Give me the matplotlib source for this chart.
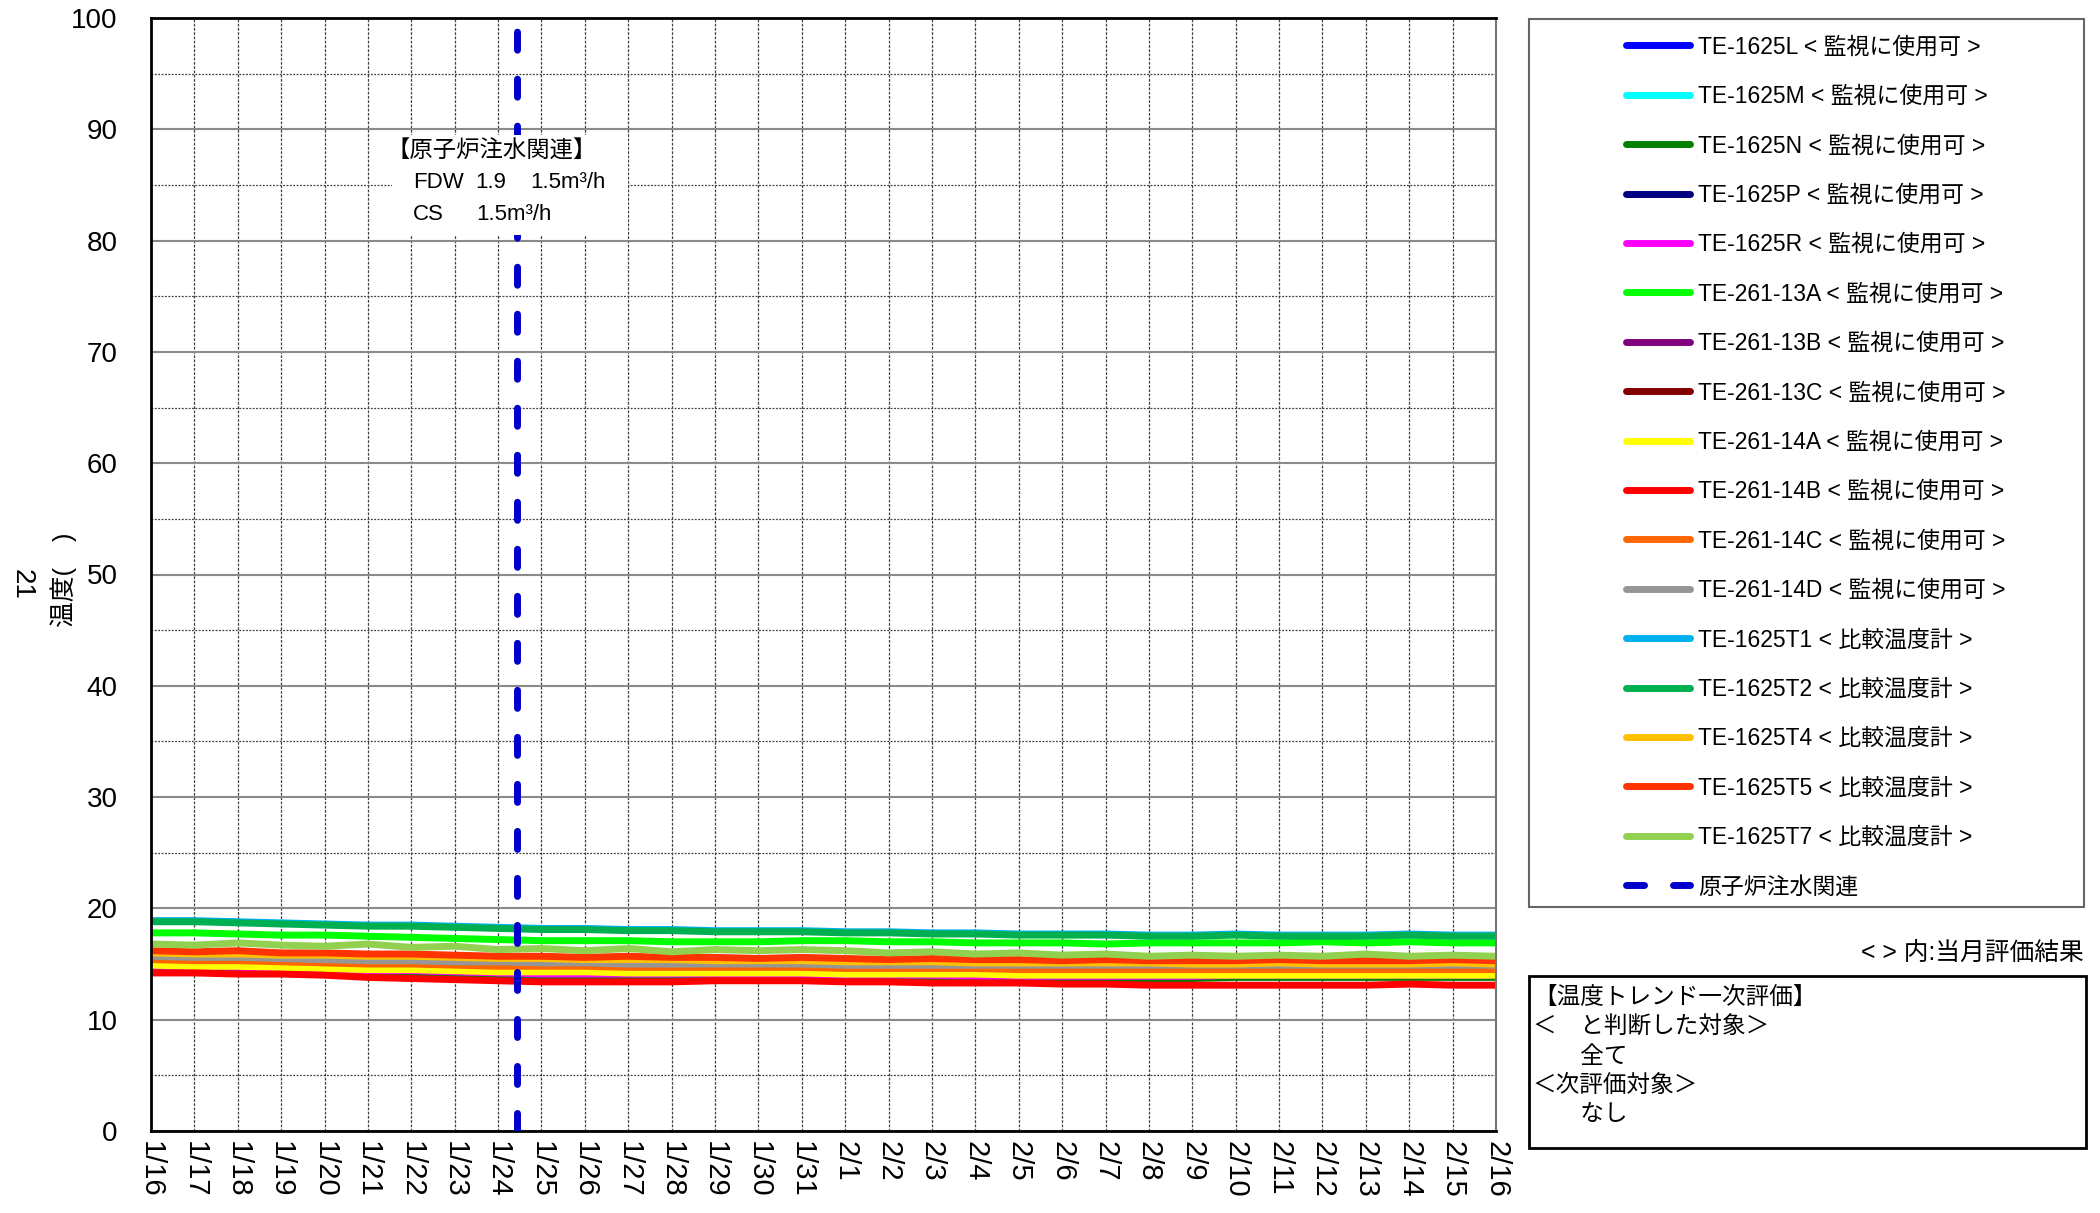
import datetime as dt
import matplotlib
matplotlib.use("Agg")
import matplotlib.pyplot as plt
from matplotlib.lines import Line2D
from matplotlib.patches import Rectangle
from matplotlib import font_manager as fm

names = {f.name for f in fm.fontManager.ttflist}
LATIN = 'Liberation Sans Narrow' if 'Liberation Sans Narrow' in names else 'Liberation Sans'
plt.rcParams['font.family'] = [LATIN, 'Noto Sans CJK JP', 'DejaVu Sans']

# ---------------- data ----------------
start = dt.datetime(2015, 1, 16)
dates = [start + dt.timedelta(days=i) for i in range(32)]
x_labels = ['1/16', '1/17', '1/18', '1/19', '1/20', '1/21', '1/22', '1/23', '1/24', '1/25',
            '1/26', '1/27', '1/28', '1/29', '1/30', '1/31', '2/1', '2/2', '2/3', '2/4',
            '2/5', '2/6', '2/7', '2/8', '2/9', '2/10', '2/11', '2/12', '2/13', '2/14',
            '2/15', '2/16']
injection_time = dt.datetime(2015, 1, 24, 10, 20)

te_1625L = [15.3, 15.2, 15.2, 15.1, 15.0, 14.9, 14.9, 14.8, 14.7, 14.7, 14.7, 14.6, 14.6, 14.6, 14.6, 14.6,
            14.5, 14.5, 14.5, 14.5, 14.4, 14.4, 14.4, 14.4, 14.4, 14.4, 14.4, 14.4, 14.4, 14.4, 14.4, 14.4]
te_1625M = [15.5, 15.4, 15.4, 15.3, 15.2, 15.1, 15.1, 15.0, 14.9, 14.9, 14.9, 14.8, 14.8, 14.8, 14.8, 14.8,
            14.7, 14.7, 14.7, 14.7, 14.6, 14.6, 14.6, 14.6, 14.6, 14.6, 14.6, 14.6, 14.6, 14.6, 14.6, 14.6]
te_1625N = [14.7, 14.6, 14.6, 14.5, 14.4, 14.3, 14.2, 14.1, 14.0, 13.9, 13.9, 13.9, 13.9, 13.9, 13.9, 13.9,
            13.8, 13.8, 13.8, 13.8, 13.7, 13.7, 13.7, 13.7, 13.7, 13.8, 13.8, 13.8, 13.8, 13.8, 13.8, 13.8]
te_1625P = [15.2, 15.1, 15.1, 15.0, 14.9, 14.8, 14.8, 14.7, 14.6, 14.6, 14.6, 14.5, 14.5, 14.5, 14.5, 14.5,
            14.4, 14.4, 14.4, 14.4, 14.3, 14.3, 14.3, 14.3, 14.3, 14.3, 14.3, 14.3, 14.3, 14.3, 14.3, 14.3]
te_1625R = [14.8, 14.8, 14.7, 14.6, 14.5, 14.4, 14.4, 14.3, 14.2, 14.1, 14.1, 14.1, 14.1, 14.1, 14.0, 14.0,
            14.0, 14.0, 14.0, 13.9, 13.9, 13.9, 13.9, 13.9, 13.9, 14.0, 14.0, 14.0, 14.0, 14.0, 14.0, 14.0]
te_261_13A = [17.8, 17.8, 17.7, 17.6, 17.6, 17.5, 17.4, 17.3, 17.2, 17.1, 17.1, 17.1, 17.0, 17.0, 17.0, 17.1,
              17.1, 17.0, 17.0, 16.9, 16.9, 16.9, 16.8, 16.9, 16.9, 16.9, 16.9, 17.0, 16.9, 17.0, 16.9, 16.9]
te_261_13B = [15.4, 15.3, 15.3, 15.2, 15.1, 15.0, 15.0, 14.9, 14.8, 14.8, 14.8, 14.7, 14.7, 14.7, 14.7, 14.7,
              14.6, 14.6, 14.6, 14.6, 14.5, 14.5, 14.5, 14.5, 14.5, 14.5, 14.5, 14.5, 14.5, 14.5, 14.5, 14.5]
te_261_13C = [15.8, 15.7, 15.7, 15.6, 15.5, 15.4, 15.4, 15.3, 15.2, 15.2, 15.2, 15.1, 15.1, 15.1, 15.1, 15.1,
              15.0, 15.0, 15.0, 15.0, 14.9, 14.9, 14.9, 14.9, 14.9, 14.9, 14.9, 14.9, 14.9, 14.9, 14.9, 14.9]
te_261_14A = [14.9, 14.8, 14.8, 14.7, 14.6, 14.5, 14.5, 14.4, 14.3, 14.3, 14.3, 14.2, 14.2, 14.2, 14.2, 14.2,
              14.1, 14.1, 14.1, 14.1, 14.0, 14.0, 14.0, 14.0, 14.0, 14.0, 14.0, 14.0, 14.0, 14.0, 14.0, 14.0]
te_261_14B = [14.2, 14.2, 14.1, 14.1, 14.0, 13.8, 13.7, 13.6, 13.5, 13.4, 13.4, 13.4, 13.4, 13.5, 13.5, 13.5,
              13.4, 13.4, 13.3, 13.3, 13.3, 13.2, 13.2, 13.1, 13.1, 13.1, 13.1, 13.1, 13.1, 13.2, 13.1, 13.1]
te_261_14C = [15.4, 15.3, 15.3, 15.2, 15.1, 15.0, 15.0, 14.9, 14.8, 14.8, 14.8, 14.7, 14.7, 14.7, 14.7, 14.7,
              14.6, 14.6, 14.6, 14.6, 14.5, 14.5, 14.5, 14.5, 14.5, 14.5, 14.5, 14.5, 14.5, 14.5, 14.5, 14.5]
te_261_14D = [15.7, 15.6, 15.6, 15.5, 15.4, 15.3, 15.3, 15.2, 15.2, 15.1, 15.1, 15.0, 15.0, 15.0, 15.0, 15.0,
              14.9, 14.9, 14.9, 14.9, 14.9, 14.9, 14.9, 14.9, 14.9, 14.9, 14.9, 14.9, 14.9, 14.9, 14.9, 14.9]
te_1625T1 = [18.9, 18.9, 18.8, 18.7, 18.6, 18.5, 18.5, 18.4, 18.3, 18.2, 18.2, 18.1, 18.1, 18.0, 18.0, 18.0,
             17.9, 17.9, 17.8, 17.8, 17.7, 17.7, 17.7, 17.6, 17.6, 17.7, 17.6, 17.6, 17.6, 17.7, 17.6, 17.6]
te_1625T2 = [18.8, 18.8, 18.7, 18.6, 18.5, 18.4, 18.4, 18.3, 18.2, 18.1, 18.1, 18.0, 18.0, 17.9, 17.9, 17.9,
             17.8, 17.8, 17.7, 17.7, 17.6, 17.6, 17.6, 17.5, 17.5, 17.6, 17.5, 17.5, 17.5, 17.6, 17.5, 17.5]
te_1625T4 = [16.0, 15.9, 15.9, 15.8, 15.8, 15.7, 15.7, 15.6, 15.5, 15.5, 15.4, 15.4, 15.4, 15.3, 15.3, 15.3,
             15.2, 15.2, 15.2, 15.1, 15.1, 15.1, 15.1, 15.1, 15.0, 15.0, 15.1, 15.0, 15.0, 15.0, 15.1, 15.0]
te_1625T5 = [16.2, 16.1, 16.2, 16.0, 16.0, 15.9, 15.9, 15.8, 15.7, 15.7, 15.6, 15.7, 15.6, 15.6, 15.5, 15.6,
             15.5, 15.4, 15.5, 15.4, 15.4, 15.3, 15.4, 15.3, 15.3, 15.3, 15.4, 15.3, 15.3, 15.3, 15.4, 15.3]
te_1625T7 = [16.8, 16.7, 16.9, 16.7, 16.6, 16.8, 16.5, 16.6, 16.3, 16.4, 16.2, 16.4, 16.1, 16.3, 16.2, 16.3,
             16.2, 16.0, 16.1, 15.9, 16.0, 15.8, 15.9, 15.7, 15.8, 15.7, 15.8, 15.7, 15.9, 15.7, 15.8, 15.7]

series_labels = ['TE-1625L < 監視に使用可 >', 'TE-1625M < 監視に使用可 >', 'TE-1625N < 監視に使用可 >',
                 'TE-1625P < 監視に使用可 >', 'TE-1625R < 監視に使用可 >', 'TE-261-13A < 監視に使用可 >',
                 'TE-261-13B < 監視に使用可 >', 'TE-261-13C < 監視に使用可 >', 'TE-261-14A < 監視に使用可 >',
                 'TE-261-14B < 監視に使用可 >', 'TE-261-14C < 監視に使用可 >', 'TE-261-14D < 監視に使用可 >',
                 'TE-1625T1 < 比較温度計 >', 'TE-1625T2 < 比較温度計 >', 'TE-1625T4 < 比較温度計 >',
                 'TE-1625T5 < 比較温度計 >', 'TE-1625T7 < 比較温度計 >']
series_values = [te_1625L, te_1625M, te_1625N, te_1625P, te_1625R, te_261_13A, te_261_13B, te_261_13C,
                 te_261_14A, te_261_14B, te_261_14C, te_261_14D, te_1625T1, te_1625T2, te_1625T4,
                 te_1625T5, te_1625T7]
series_colors = ['#0000FF', '#00FFFF', '#008000', '#000080', '#FF00FF', '#00FF00', '#800080', '#800000',
                 '#FFFF00', '#FF0000', '#FF6600', '#969696', '#00B0F0', '#00B050', '#FFC000', '#FF3300',
                 '#92D050']
injection_label = '原子炉注水関連'
injection_color = '#0000CC'

# ---------------- figure ----------------
W, H = 2100, 1213
fig = plt.figure(figsize=(W / 100, H / 100), dpi=100)
ax = fig.add_axes([151 / W, 1 - 1131 / H, (1496 - 151) / W, (1131 - 18) / H])

LW = 5
for vals, col in zip(series_values, series_colors):
    ax.plot(dates, vals, color=col, lw=LW, solid_capstyle='butt', solid_joinstyle='round', zorder=2)

dash = (0, (2.6, 4.17))
ax.axvline(injection_time, color=injection_color, lw=LW, linestyle=dash,
           dash_capstyle='round', zorder=3)

ax.set_xlim(dates[0], dates[-1])
ax.set_ylim(0, 100)
ax.set_yticks(range(0, 101, 10))
ax.set_yticks(range(5, 100, 10), minor=True)
ax.set_xticks(dates)
ax.set_xticklabels(x_labels, rotation=270, fontsize=21, family=['Liberation Sans', 'DejaVu Sans'])
ax.tick_params(axis='y', which='both', length=0, labelsize=20, pad=24)
ax.tick_params(axis='x', which='both', length=0, pad=7)
ax.set_axisbelow(True)
ax.grid(which='major', axis='y', color='#8a8a8a', lw=1.5, ls='-')
ax.grid(which='minor', axis='y', color='#404040', lw=0.9, ls=(0, (1.5, 1.2)))
ax.grid(which='major', axis='x', color='#404040', lw=0.9, ls=(0, (2.2, 1.2)))
for s in ['left', 'bottom', 'top']:
    ax.spines[s].set_color('black')
    ax.spines[s].set_linewidth(2)
ax.spines['right'].set_color('#777777')
ax.spines['right'].set_linewidth(1.5)

# annotation box
ax.add_patch(Rectangle((0.179, 0.805), 0.176, 0.09, transform=ax.transAxes,
                       facecolor='white', edgecolor='none', zorder=4))
def ftext(x, y, s, **kw):
    return fig.text(x / W, 1 - y / H, s, **kw)

ftext(386, 151, '【原子炉注水関連】', fontsize=16.8, va='center', ha='left', zorder=6)
ftext(413, 183, 'FDW', fontsize=16, va='center', ha='left', zorder=6)
ftext(475, 183, '1.9', fontsize=16, va='center', ha='left', zorder=6)
ftext(530, 183, '1.5m³/h', fontsize=16, va='center', ha='left', zorder=6)
ftext(413, 214, 'CS', fontsize=16, va='center', ha='left', zorder=6)
ftext(476, 214, '1.5m³/h', fontsize=16, va='center', ha='left', zorder=6)

# y label
ftext(64, 580, '温度(　)', fontsize=18.5, rotation=90, ha='center', va='center')
ftext(22, 584, '21', fontsize=20, rotation=270, ha='center', va='center')

# legend
handles = [Line2D([], [], color=c, lw=LW, solid_capstyle='round') for c in series_colors]
handles.append(Line2D([], [], color=injection_color, lw=LW, linestyle=dash, dash_capstyle='round'))
labels = series_labels + [injection_label]
fig.add_artist(Rectangle((1529 / W, 1 - 907 / H), (2084 - 1529) / W, (907 - 19) / H,
                         transform=fig.transFigure, fill=False, edgecolor='#666666', lw=1.5))
FS = 16.5
fs_px = FS * 100 / 72
labelspacing = 0.9
top_y = 30
leg = None
for it in range(3):
    if leg is not None:
        leg.remove()
    leg = fig.legend(handles, labels, loc='upper left', bbox_to_anchor=(1626 / W, 1 - top_y / H),
                     frameon=False, borderpad=0, borderaxespad=0, fontsize=FS,
                     handlelength=2.8, handletextpad=0.35, labelspacing=labelspacing)
    fig.canvas.draw()
    r = fig.canvas.get_renderer()
    cents = []
    for t in leg.get_texts():
        bb = t.get_window_extent(r)
        cents.append(H - (bb.y0 + bb.y1) / 2)
    pitch = (cents[-1] - cents[0]) / (len(cents) - 1)
    labelspacing += (49.4 - pitch) / fs_px
    top_y += 47 - cents[0]

# right side texts
ftext(2084, 953, '< > 内:当月評価結果', fontsize=17.8, ha='right', va='center')
fig.add_artist(Rectangle((1529 / W, 1 - 1148 / H), (2086 - 1529) / W, (1148 - 976) / H,
                         transform=fig.transFigure, fill=False, edgecolor='black', lw=2))
eval_lines = ['【温度トレンド一次評価】', '＜　と判断した対象＞', '　　全て', '＜次評価対象＞', '　　なし']
for i, s in enumerate(eval_lines):
    ftext(1533, 998 + 29.3 * i, s, fontsize=17, ha='left', va='center')

fig.savefig('out.png', dpi=100)
